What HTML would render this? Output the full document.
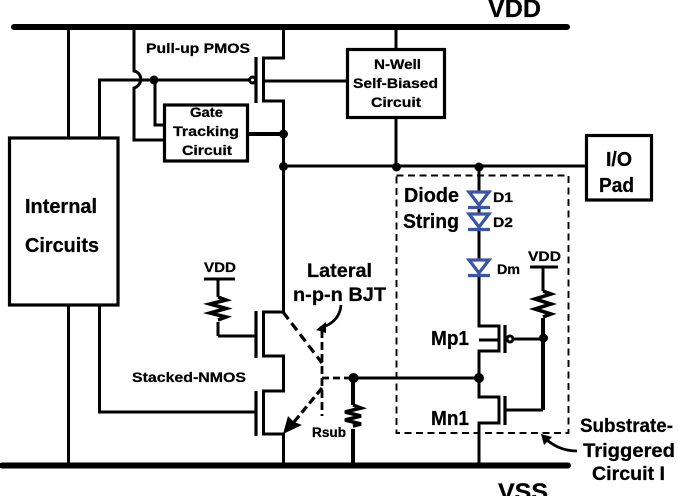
<!DOCTYPE html>
<html><head><meta charset="utf-8"><style>
html,body{margin:0;padding:0;background:#fff}
svg{display:block}
text{font-family:"Liberation Sans",sans-serif;font-weight:bold;fill:#000;stroke:#000;stroke-width:.25px}
</style></head><body>
<svg width="678" height="496" viewBox="0 0 678 496" xmlns="http://www.w3.org/2000/svg">
<g fill="none" stroke="#000" stroke-width="3">
<path d="M14 27H567M2 465.500H568" stroke-width="6" stroke-linecap="round"/>
<path d="M68.500 27V138M68.500 305V465M99.500 138V80H252M99.500 305V412H256"/>
<path d="M134 27V71C143 73 143 85 134 88V140H164"/>
<path d="M155 80V125H164"/>
<rect x="164.500" y="105" width="83" height="56" stroke-width="3.200"/>
<path d="M248 134H283" stroke-width="4"/>
<path d="M283.500 27V58H263.500V101H283.500V166H586"/>
<path d="M283.500 166V312H263.500V356H283.500V391H263.500V434H283.500V465"/>
<path d="M256 57V103M256 311V358M256 391V436" stroke-width="3.200"/>
<path d="M263 81H347M396 27V49M396 117V166"/>
<rect x="347.500" y="49.500" width="97" height="68" stroke-width="3.200"/>
<rect x="586.500" y="135.500" width="65" height="64.500" stroke-width="3.200"/>
<rect x="9.500" y="138" width="108.500" height="167" stroke-width="3.200"/>
<path d="M218 336H256M218 279V297M218 322V336M204 279H235"/>
<path d="M218 297l8 3-16 4 16 4.500-16 4.500 16 4-8 3" stroke-width="3.600"/>
<path d="M353 378V405M353 429V465" stroke-width="4"/>
<path d="M353 405l8 3-16 4 16 4-16 4 16 4-8 2" stroke-width="3.600"/>
<path d="M353 378H479"/>
<path d="M283 312L322 363" stroke-width="3.200" stroke-dasharray="9 5"/>
<path d="M322 330V416" stroke-width="2.800" stroke-dasharray="8 4"/>
<path d="M322 378H353" stroke-width="2.800" stroke-dasharray="7 4"/>
<path d="M322 388L294 422" stroke-width="3.200" stroke-dasharray="8 4"/>
<path d="M341 305C340 318 331 325 320 328" stroke-width="2.800"/>
<path d="M479 166V326H499V351H479V397H499V423H479V465M479 340H499"/>
<path d="M505 325V353M505 396V425" stroke-width="3.200"/>
<path d="M512 339H543M505 410H543"/>
<path d="M543 318V410" stroke-width="4"/>
<path d="M530 267H558M543 267V291" stroke-width="3"/>
<path d="M543 291l8 3-16 5 16 5-16 5 16 5-8 3" stroke-width="3.600"/>
<rect x="396.500" y="175.500" width="172" height="257.500" stroke-width="1.900" stroke-dasharray="7 4.500"/>
<path d="M577 451C562 451 553 445 544 438" stroke-width="2.800"/>
</g>
<circle cx="510" cy="339" r="3" fill="#fff" stroke="#000" stroke-width="3"/>
<circle cx="252.500" cy="80" r="3" fill="#fff" stroke="#000" stroke-width="3"/>
<g fill="#000">
<circle cx="154" cy="80" r="4.500"/><circle cx="283.500" cy="134" r="4.500"/><circle cx="283.500" cy="166.500" r="4.500"/>
<circle cx="396.500" cy="167" r="4.500"/><circle cx="479" cy="167" r="4.500"/><circle cx="479" cy="378" r="5"/>
<circle cx="353.500" cy="378" r="5"/><circle cx="543.500" cy="338" r="4.500"/>
<path d="M283 434L288 416 294 422 302 425Z"/>
<path d="M316 330L326 322 326 333Z"/>
<path d="M541 434L552 437 544 445Z"/>
</g>
<path d="M479 229V259" stroke="#000" stroke-width="3" stroke-dasharray="7 4" fill="none"/>
<g fill="#fff" stroke="#3a55a5" stroke-width="3.200">
<path d="M469 192H489L479 205Z"/><path d="M468 207.500H490"/>
<path d="M469 214H489L479 227Z"/><path d="M468 229.500H490"/>
<path d="M469 260H489L479 273Z"/><path d="M468 275.500H490"/>
</g>
<g lengthAdjust="spacingAndGlyphs">
<text x="488" y="17" font-size="25" textLength="53" lengthAdjust="spacingAndGlyphs">VDD</text>
<text x="498" y="500" font-size="24" textLength="50" lengthAdjust="spacingAndGlyphs">VSS</text>
<text x="146" y="53" font-size="14" textLength="104" lengthAdjust="spacingAndGlyphs">Pull-up PMOS</text>
<text x="190" y="117" font-size="14" textLength="33" lengthAdjust="spacingAndGlyphs">Gate</text>
<text x="173" y="136" font-size="14" textLength="66" lengthAdjust="spacingAndGlyphs">Tracking</text>
<text x="182" y="155" font-size="14" textLength="50" lengthAdjust="spacingAndGlyphs">Circuit</text>
<text x="374" y="69" font-size="13.500" textLength="47" lengthAdjust="spacingAndGlyphs">N-Well</text>
<text x="353" y="88" font-size="13.500" textLength="85" lengthAdjust="spacingAndGlyphs">Self-Biased</text>
<text x="371" y="107" font-size="13.500" textLength="50" lengthAdjust="spacingAndGlyphs">Circuit</text>
<text x="606" y="166" font-size="20" textLength="26" lengthAdjust="spacingAndGlyphs">I/O</text>
<text x="599" y="192" font-size="20" textLength="35" lengthAdjust="spacingAndGlyphs">Pad</text>
<text x="25" y="213" font-size="20" textLength="72" lengthAdjust="spacingAndGlyphs">Internal</text>
<text x="25" y="252" font-size="20" textLength="74" lengthAdjust="spacingAndGlyphs">Circuits</text>
<text x="404" y="202" font-size="20" textLength="55" lengthAdjust="spacingAndGlyphs">Diode</text>
<text x="403" y="228" font-size="20" textLength="56" lengthAdjust="spacingAndGlyphs">String</text>
<text x="493" y="202" font-size="14" textLength="20" lengthAdjust="spacingAndGlyphs">D1</text>
<text x="493" y="227" font-size="14" textLength="20" lengthAdjust="spacingAndGlyphs">D2</text>
<text x="497" y="274" font-size="14" textLength="23" lengthAdjust="spacingAndGlyphs">Dm</text>
<text x="204" y="272" font-size="14" textLength="32" lengthAdjust="spacingAndGlyphs">VDD</text>
<text x="528" y="261" font-size="14" textLength="33" lengthAdjust="spacingAndGlyphs">VDD</text>
<text x="307" y="277" font-size="19.500" textLength="65" lengthAdjust="spacingAndGlyphs">Lateral</text>
<text x="293" y="301" font-size="19.500" textLength="93" lengthAdjust="spacingAndGlyphs">n-p-n BJT</text>
<text x="132" y="382" font-size="14" textLength="114" lengthAdjust="spacingAndGlyphs">Stacked-NMOS</text>
<text x="312" y="437" font-size="13.500" textLength="34" lengthAdjust="spacingAndGlyphs">Rsub</text>
<text x="431" y="345" font-size="20" textLength="38" lengthAdjust="spacingAndGlyphs">Mp1</text>
<text x="431" y="425" font-size="20" textLength="38" lengthAdjust="spacingAndGlyphs">Mn1</text>
<text x="580" y="432" font-size="19.500" textLength="93" lengthAdjust="spacingAndGlyphs">Substrate-</text>
<text x="583" y="457" font-size="19.500" textLength="92" lengthAdjust="spacingAndGlyphs">Triggered</text>
<text x="592" y="480" font-size="19.500" textLength="73" lengthAdjust="spacingAndGlyphs">Circuit I</text>
</g>
</svg>
</body></html>
